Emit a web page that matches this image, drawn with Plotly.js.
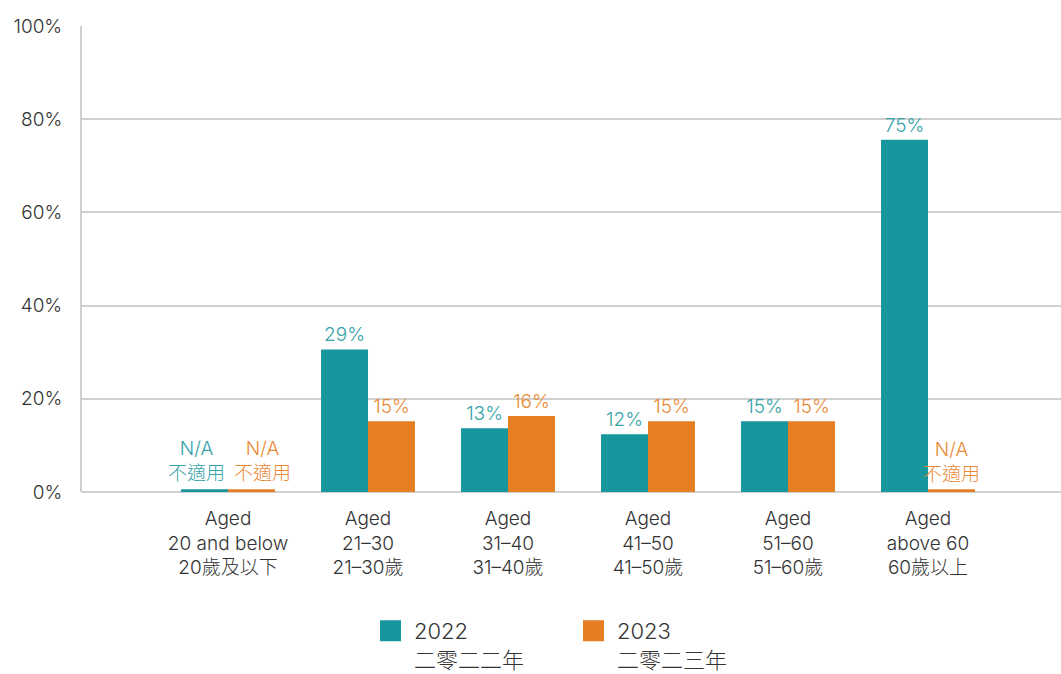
<!DOCTYPE html>
<html>
<head>
<meta charset="utf-8">
<script src="https://cdn.plot.ly/plotly-3.0.1.min.js"></script>
<style>html,body{margin:0;padding:0;background:#fff;}#chart{width:1061px;height:674px;}</style>
</head>
<body>
<div id="chart"></div>
<script>
var categories = ["Aged<br>20 and below<br>20歲及以下", "Aged<br>21–30<br>21–30歲", "Aged<br>31–40<br>31–40歲", "Aged<br>41–50<br>41–50歲", "Aged<br>51–60<br>51–60歲", "Aged<br>above 60<br>60歲以上"];
var values2022 = [0.6, 30.6, 13.7, 12.4, 15.2, 75.6];
var values2023 = [0.6, 15.2, 16.3, 15.2, 15.2, 0.6];
var labels2022 = ["", "29%", "13%", "12%", "15%", "75%"];
var labels2023 = ["", "15%", "16%", "15%", "15%", "N/A<br>不適用"];
var naLabel = "N/A<br>不適用";
var seriesNames = ["2022<br>二零二二年", "2023<br>二零二三年"];
var yTicks = [0, 20, 40, 60, 80, 100];

var teal = "#17969e";
var orange = "#e67e23";
var tealText = "#35a2a9";
var orangeText = "#e98a36";
var TXT = "#333333";
var FONT = "Inter, Noto Sans CJK TC, sans-serif";
var W = 300;
var idx = categories.map(function(_, i){ return i; });

var traces = [
  {type: "bar", x: idx, y: values2022, text: labels2022, textposition: "outside", constraintext: "none", cliponaxis: false,
   marker: {color: teal}, textfont: {color: tealText, size: 19, family: FONT, weight: W}, showlegend: false, hoverinfo: "skip"},
  {type: "bar", x: idx, y: values2023, text: labels2023, textposition: "outside", constraintext: "none", cliponaxis: false,
   marker: {color: orange}, textfont: {color: orangeText, size: 19, family: FONT, weight: W}, showlegend: false, hoverinfo: "skip"},
  {type: "scatter", mode: "markers", x: [null], y: [null], name: seriesNames[0], marker: {symbol: "square", size: 16, color: teal, line: {color: teal, width: 5}}},
  {type: "scatter", mode: "markers", x: [null], y: [null], name: seriesNames[1], marker: {symbol: "square", size: 16, color: orange, line: {color: orange, width: 5}}}
];

var layout = {
  width: 1061, height: 674,
  margin: {l: 82, r: 0, t: 26, b: 182},
  paper_bgcolor: "#fff", plot_bgcolor: "#fff",
  font: {family: FONT, color: TXT, size: 18, weight: W},
  barmode: "group", bargap: 0.329, bargroupgap: 0,
  xaxis: {range: [-1.043, 5.95], tickvals: idx, ticktext: categories, showgrid: false, zeroline: false,
          showline: false, ticks: "outside", ticklen: 9, tickcolor: "rgba(0,0,0,0)",
          tickfont: {size: 19, color: TXT, weight: W}, fixedrange: true},
  yaxis: {range: [0, 100], tickvals: yTicks, ticktext: yTicks.map(function(v){return v + "%";}),
          showgrid: true, gridcolor: "#d0d0d0", gridwidth: 2, zeroline: true, zerolinecolor: "#d0d0d0", zerolinewidth: 2,
          showline: true, linecolor: "#d0d0d0", linewidth: 2, ticks: "outside", ticklen: 14, tickcolor: "rgba(0,0,0,0)",
          tickfont: {size: 19, color: TXT, weight: W}, fixedrange: true},
  annotations: [
    {x: 0, y: values2022[0], xref: "x", yref: "y", text: naLabel, showarrow: false, yanchor: "bottom", xshift: -32, yshift: 2,
     font: {color: tealText, size: 19, family: FONT, weight: W}},
    {x: 0, y: values2023[0], xref: "x", yref: "y", text: naLabel, showarrow: false, yanchor: "bottom", xshift: 34, yshift: 2,
     font: {color: orangeText, size: 19, family: FONT, weight: W}}
  ],
  showlegend: true,
  legend: {orientation: "h", xref: "container", yref: "container", x: 367/1061, xanchor: "left", y: 1 - 610/674, yanchor: "top", valign: "top",
           itemwidth: 37, entrywidth: 151, font: {size: 22, color: TXT, weight: W}, itemsizing: "trace"}
};

Plotly.newPlot("chart", traces, layout, {displayModeBar: false, staticPlot: true});
</script>
</body>
</html>
